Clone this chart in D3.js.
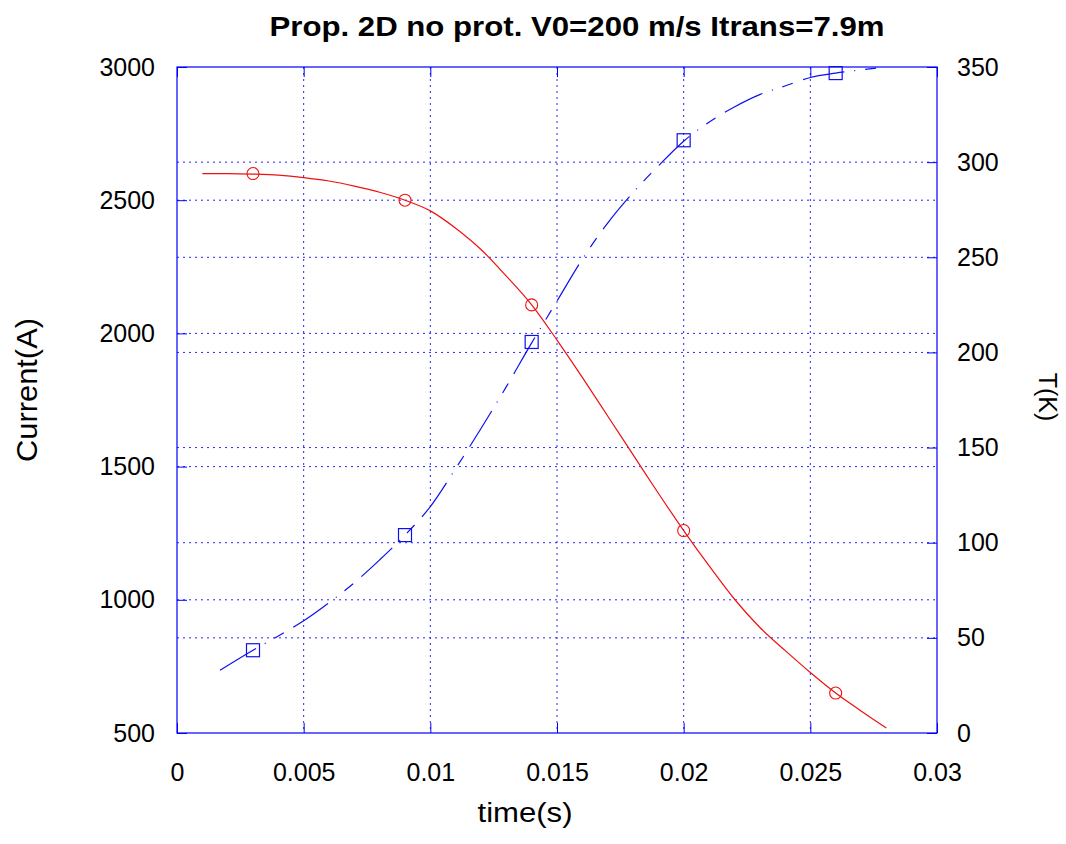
<!DOCTYPE html>
<html>
<head>
<meta charset="utf-8">
<script src="https://cdn.jsdelivr.net/npm/d3@7"></script>
<style>
  body { margin: 0; background: #fff; }
  text { font-family: "Liberation Sans", Arial, sans-serif; fill: #000; }
</style>
</head>
<body>
<svg id="chart" width="1066" height="844"></svg>
<script>
// ---- data ----
const title = "Prop. 2D no prot. V0=200 m/s Itrans=7.9m";
const xTicks = [0, 0.005, 0.01, 0.015, 0.02, 0.025, 0.03];
const xTickLabels = ["0", "0.005", "0.01", "0.015", "0.02", "0.025", "0.03"];
const leftTicks = [500, 1000, 1500, 2000, 2500, 3000];
const rightTicks = [0, 50, 100, 150, 200, 250, 300, 350];

const currentTime = [0.001,0.002,0.003,0.004,0.005,0.006,0.007,0.008,0.009,0.010,0.011,0.012,0.013,0.014,
                     0.015,0.016,0.017,0.018,0.019,0.020,0.021,0.022,0.023,0.024,0.025,0.026,0.027,0.028];
const currentVals = [2600,2600,2598,2594,2585,2572,2553,2530,2500,2460,2395,2315,2215,2107,
                     1975,1835,1690,1545,1400,1260,1128,1003,897,810,727,650,583,519];
const currentMarkT = [0.003, 0.009, 0.014, 0.020, 0.026];
const currentMarkV = [2600, 2500, 2107, 1260, 650];

const tempTime = [0.0017,0.003,0.004,0.005,0.006,0.007,0.008,0.009,0.010,0.011,0.012,0.013,0.014,
                  0.015,0.016,0.017,0.018,0.019,0.020,0.021,0.022,0.023,0.024,0.025,0.026,0.027,0.028];
const tempVals = [33,43.5,51,59,68.5,79,91,104,119,139,160,182,205,
                  227,249,268,284,298,311,321,329,335.5,340,344.5,346.8,348.5,350];
const tempMarkT = [0.003, 0.009, 0.014, 0.020, 0.026];
const tempMarkV = [43.5, 104, 205.5, 311.5, 346.8];

// ---- layout ----
const svg = d3.select("#chart");
const L = 177, R = 937, T = 67, B = 733;
const x = d3.scaleLinear().domain([0, 0.03]).range([L, R]);
const yL = d3.scaleLinear().domain([500, 3000]).range([B, T]);
const yR = d3.scaleLinear().domain([0, 350]).range([B, T]);
const blue = "#0000ff";
const font = "'Liberation Sans', Arial, sans-serif";

// grid
const grid = svg.append("g").attr("stroke", blue).attr("stroke-width", 1)
  .attr("stroke-dasharray", "2,4").attr("opacity", 0.85);
xTicks.filter(v => v > 0 && v < 0.03).forEach(v => {
  grid.append("line").attr("x1", x(v)).attr("x2", x(v)).attr("y1", T).attr("y2", B);
});
leftTicks.filter(v => v > 500 && v < 3000).forEach(v => {
  grid.append("line").attr("x1", L).attr("x2", R).attr("y1", yL(v)).attr("y2", yL(v));
});
rightTicks.filter(v => v > 0 && v < 350).forEach(v => {
  grid.append("line").attr("x1", L).attr("x2", R).attr("y1", yR(v)).attr("y2", yR(v));
});

// axes (inward ticks, labels)
const tickLen = 10;
const fs = 25;
const axB = d3.axisBottom(x).tickValues(xTicks).tickFormat((d, i) => xTickLabels[i]).tickSize(-tickLen).tickPadding(28);
const axT = d3.axisTop(x).tickValues(xTicks).tickFormat("").tickSize(-tickLen);
const axL = d3.axisLeft(yL).tickValues(leftTicks).tickFormat(d3.format("d")).tickSize(-tickLen).tickPadding(22);
const axR = d3.axisRight(yR).tickValues(rightTicks).tickFormat(d3.format("d")).tickSize(-tickLen).tickPadding(20);

function styleAxis(g) {
  g.select(".domain").remove();
  g.selectAll(".tick line").attr("stroke", blue).attr("stroke-width", 1);
  g.selectAll(".tick text").attr("font-size", fs).attr("fill", "#000").attr("font-family", font);
}
svg.append("g").attr("transform", `translate(0,${B})`).call(axB).call(styleAxis)
  .selectAll(".tick text").attr("dy", null).attr("y", 48);
svg.append("g").attr("transform", `translate(0,${T})`).call(axT).call(styleAxis);
svg.append("g").attr("transform", `translate(${L},0)`).call(axL).call(styleAxis);
svg.append("g").attr("transform", `translate(${R},0)`).call(axR).call(styleAxis);

// frame
svg.append("rect").attr("x", L).attr("y", T).attr("width", R - L).attr("height", B - T)
  .attr("fill", "none").attr("stroke", blue).attr("stroke-width", 1.2);

// current line (red)
const red = "#ee1111";
const lineI = d3.line().curve(d3.curveMonotoneX).x(d => x(d[0])).y(d => yL(d[1]));
svg.append("path").datum(currentTime.map((t, i) => [t, currentVals[i]]))
  .attr("d", lineI).attr("fill", "none").attr("stroke", red).attr("stroke-width", 1.2);
svg.append("g").selectAll("circle").data(currentMarkT.map((t, i) => [t, currentMarkV[i]]))
  .join("circle").attr("cx", d => x(d[0])).attr("cy", d => yL(d[1])).attr("r", 6)
  .attr("fill", "none").attr("stroke", red).attr("stroke-width", 1.1);

// temperature line (blue dashed)
const lineT = d3.line().curve(d3.curveMonotoneX).x(d => x(d[0])).y(d => yR(d[1]));
svg.append("path").datum(tempTime.map((t, i) => [t, tempVals[i]]))
  .attr("d", lineT).attr("fill", "none").attr("stroke", "#1010ee").attr("stroke-width", 1.2)
  .attr("stroke-dasharray", "42,10,1,10,11,11");
svg.append("g").selectAll("rect").data(tempMarkT.map((t, i) => [t, tempMarkV[i]]))
  .join("rect").attr("x", d => x(d[0]) - 6.5).attr("y", d => yR(d[1]) - 6.5)
  .attr("width", 13).attr("height", 13)
  .attr("fill", "none").attr("stroke", "#1010ee").attr("stroke-width", 1.2);

// titles
svg.append("text").attr("x", 577).attr("y", 36).attr("text-anchor", "middle")
  .attr("font-size", 28).attr("font-weight", "bold")
  .attr("textLength", 615).attr("lengthAdjust", "spacingAndGlyphs").text(title);
svg.append("text").attr("x", 525).attr("y", 822).attr("text-anchor", "middle")
  .attr("font-size", 27).attr("textLength", 95).attr("lengthAdjust", "spacingAndGlyphs").text("time(s)");
svg.append("text").attr("transform", `translate(37,390) rotate(-90)`)
  .attr("text-anchor", "middle").attr("font-size", 29)
  .attr("textLength", 144).attr("lengthAdjust", "spacingAndGlyphs").text("Current(A)");
svg.append("text").attr("transform", `translate(1039,397) rotate(90)`)
  .attr("text-anchor", "middle").attr("font-size", 25).text("T(K)");
</script>
</body>
</html>
